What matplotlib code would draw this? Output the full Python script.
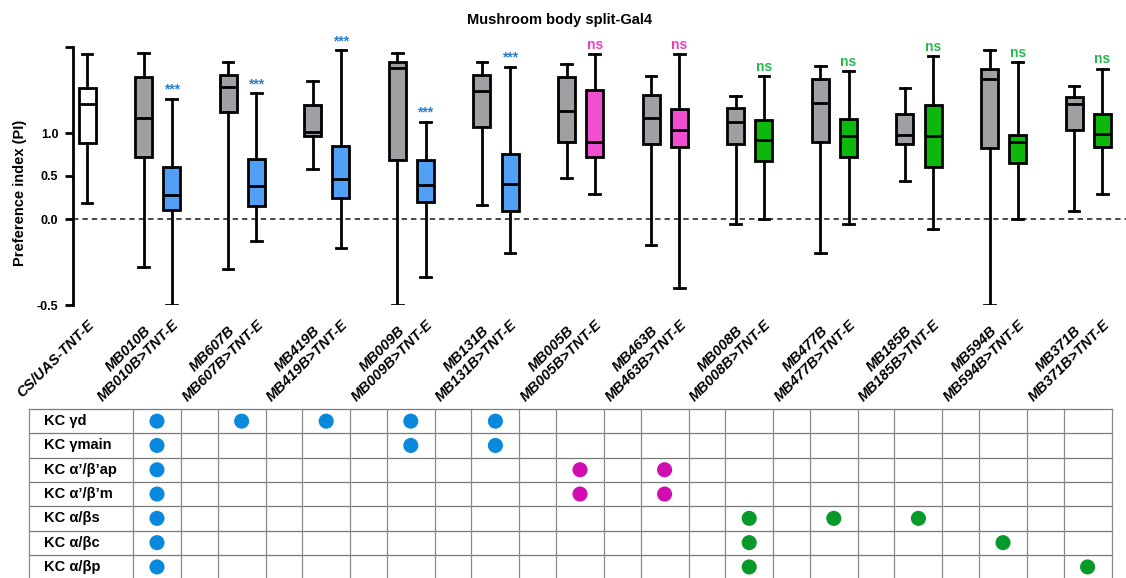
import matplotlib.pyplot as plt
import numpy as np

plt.rcParams['font.family'] = ['Liberation Sans', 'DejaVu Sans']
plt.rcParams['font.weight'] = 'bold'

# split-Gal4 lines in plot order
lines = ['MB010B', 'MB607B', 'MB419B', 'MB009B', 'MB131B', 'MB005B',
         'MB463B', 'MB008B', 'MB477B', 'MB185B', 'MB594B', 'MB371B']
line_group = ['gamma'] * 5 + ['apbp'] * 2 + ['ab'] * 5
genotypes = ['CS/UAS-TNT-E'] + [g for ln in lines for g in (ln, ln + '>TNT-E')]

# box statistics (preference index)
whislo = [0.185, -0.28, -0.50, -0.29, -0.13, 0.58, -0.17, -0.50, -0.34, 0.165, -0.20, 0.48, 0.285,
          -0.15, -0.40, -0.03, 0.00, -0.20, -0.03, 0.44, -0.06, -0.50, 0.00, 0.09, 0.285]
q1 = [0.885, 0.72, 0.11, 1.25, 0.15, 0.96, 0.24, 0.69, 0.20, 1.07, 0.09, 0.90, 0.72,
      0.87, 0.84, 0.87, 0.68, 0.90, 0.72, 0.87, 0.61, 0.83, 0.65, 1.04, 0.84]
med = [1.34, 1.17, 0.28, 1.53, 0.38, 1.01, 0.47, 1.76, 0.39, 1.49, 0.41, 1.26, 0.89,
       1.18, 1.03, 1.13, 0.92, 1.35, 0.97, 0.98, 0.97, 1.63, 0.90, 1.34, 0.99]
q3 = [1.52, 1.65, 0.60, 1.68, 0.70, 1.33, 0.85, 1.82, 0.69, 1.68, 0.76, 1.65, 1.50,
      1.44, 1.28, 1.29, 1.15, 1.63, 1.16, 1.22, 1.33, 1.75, 0.98, 1.42, 1.22]
whishi = [1.92, 1.93, 1.40, 1.83, 1.46, 1.60, 1.96, 1.93, 1.13, 1.83, 1.77, 1.80, 1.92,
          1.66, 1.92, 1.43, 1.66, 1.78, 1.72, 1.52, 1.89, 1.97, 1.83, 1.55, 1.75]

# significance vs controls for each >TNT-E group
signif = ['***', '***', '***', '***', '***', 'ns', 'ns', 'ns', 'ns', 'ns', 'ns', 'ns']

# KC types labelled by each line
kc_types = ['KC γd', 'KC γmain', 'KC α’/β’ap', 'KC α’/β’m', 'KC α/βs', 'KC α/βc', 'KC α/βp']
expression = {
    'MB010B': [1, 1, 1, 1, 1, 1, 1],
    'MB607B': [1, 0, 0, 0, 0, 0, 0],
    'MB419B': [1, 0, 0, 0, 0, 0, 0],
    'MB009B': [1, 1, 0, 0, 0, 0, 0],
    'MB131B': [1, 1, 0, 0, 0, 0, 0],
    'MB005B': [0, 0, 1, 1, 0, 0, 0],
    'MB463B': [0, 0, 1, 1, 0, 0, 0],
    'MB008B': [0, 0, 0, 0, 1, 1, 1],
    'MB477B': [0, 0, 0, 0, 1, 0, 0],
    'MB185B': [0, 0, 0, 0, 1, 0, 0],
    'MB594B': [0, 0, 0, 0, 0, 1, 0],
    'MB371B': [0, 0, 0, 0, 0, 0, 1],
}

box_col = {'gamma': '#52a0f6', 'apbp': '#f24ed2', 'ab': '#0bb80b'}
sig_col = {'gamma': '#2a7fd2', 'apbp': '#f03cbf', 'ab': '#28b850'}
dot_col = {'gamma': '#0a88dc', 'apbp': '#d00db0', 'ab': '#079a2a'}

W, H = 1126, 578
fig = plt.figure(figsize=(W / 100, H / 100), dpi=100)

# ---------- expression table (pixel coordinates) ----------
tab = fig.add_axes([0, 0, 1, 1])
tab.set_xlim(0, W)
tab.set_ylim(H, 0)
tab.axis('off')
t_left, t_lab_end, t_top, row_h = 29, 133, 409, 24.3
dot_w, gap_w = 48, 36.6
pitch = dot_w + gap_w
col_edges = [t_left, t_lab_end]
for i in range(len(lines)):
    col_edges.append(t_lab_end + i * pitch + dot_w)
    if i < len(lines) - 1:
        col_edges.append(t_lab_end + (i + 1) * pitch)
t_bottom = t_top + row_h * len(kc_types)
for k in range(len(kc_types) + 1):
    tab.plot([t_left, col_edges[-1]], [t_top + k * row_h] * 2, color='#7a7a7a', lw=0.9)
for xe in col_edges:
    tab.plot([xe, xe], [t_top, t_bottom], color='#8a8a8a', lw=0.9)
for r, kc in enumerate(kc_types):
    tab.text(44, t_top + (r + 0.5) * row_h, kc, fontsize=10.5, fontweight='bold',
             va='center', ha='left')
for i, ln in enumerate(lines):
    cx = t_lab_end + i * pitch + dot_w / 2
    for r, on in enumerate(expression[ln]):
        if on:
            tab.scatter(cx, t_top + (r + 0.5) * row_h, s=118, color=dot_col[line_group[i]],
                        edgecolors='none', zorder=3)

# ---------- box plot ----------
ax = fig.add_axes([73 / W, (H - 305) / H, (W - 73) / W, 258 / H])

def fwd(v):
    v = np.asarray(v, dtype=float)
    return np.where(v >= 0, v, 2 * v)

def inv(u):
    u = np.asarray(u, dtype=float)
    return np.where(u >= 0, u, u / 2)

ax.set_yscale('function', functions=(fwd, inv))

positions = [0] + [p for i in range(len(lines)) for p in (2 + 3 * i, 3 + 3 * i)]
colors = ['white'] + [c for g in line_group for c in ('#a0a0a4', box_col[g])]
stats = [dict(med=med[i], q1=q1[i], q3=q3[i], whislo=whislo[i], whishi=whishi[i], fliers=[])
         for i in range(len(genotypes))]
lw = 2.0
bp = ax.bxp(stats, positions=positions, widths=0.6, capwidths=0.38, patch_artist=True,
            showfliers=False,
            boxprops=dict(linewidth=lw, edgecolor='black'),
            whiskerprops=dict(linewidth=lw, color='black'),
            capprops=dict(linewidth=lw, color='black'),
            medianprops=dict(linewidth=lw, color='black'))
for patch, c in zip(bp['boxes'], colors):
    patch.set_facecolor(c)

ax.axhline(0, color='#3a3a3a', lw=1.3, ls=(0, (3, 2.2)), zorder=0)

for i, s in enumerate(signif):
    k = 2 + 2 * i
    ax.annotate(s, (positions[k], whishi[k]), xytext=(0, 1.5), textcoords='offset points',
                ha='center', va='bottom', fontsize=10, fontweight='bold',
                color=sig_col[line_group[i]])

ax.set_xlim(-0.5, 36.84)
ax.set_ylim(-0.5, 2.0)
for side in ['top', 'right', 'bottom']:
    ax.spines[side].set_visible(False)
ax.spines['left'].set_linewidth(2)
ax.set_yticks([-0.5, 0.0, 0.5, 1.0, 2.0], ['-0.5', '0.0', '0.5', '1.0', ''])
ax.tick_params(axis='y', length=5.5, width=2, labelsize=9, pad=5)
ax.set_xticks(positions)
ax.set_xticklabels(genotypes, rotation=45, ha='right', va='top', rotation_mode='anchor',
                   fontsize=10.5, fontweight='bold', fontstyle='italic')
ax.tick_params(axis='x', length=0)
for j, tick in enumerate(ax.xaxis.get_major_ticks()):
    tick.set_pad(13 if (j % 2 == 1) else 9)
for lab in ax.get_yticklabels():
    lab.set_fontweight('bold')

fig.text(560 / W, 1 - 20 / H, 'Mushroom body split-Gal4', ha='center', va='center',
         fontsize=10.5, fontweight='bold')
fig.text(20 / W, 1 - 193 / H, 'Preference index (PI)', rotation=90, ha='center',
         va='center', fontsize=10.5, fontweight='bold')

fig.savefig('out.png', dpi=100)
